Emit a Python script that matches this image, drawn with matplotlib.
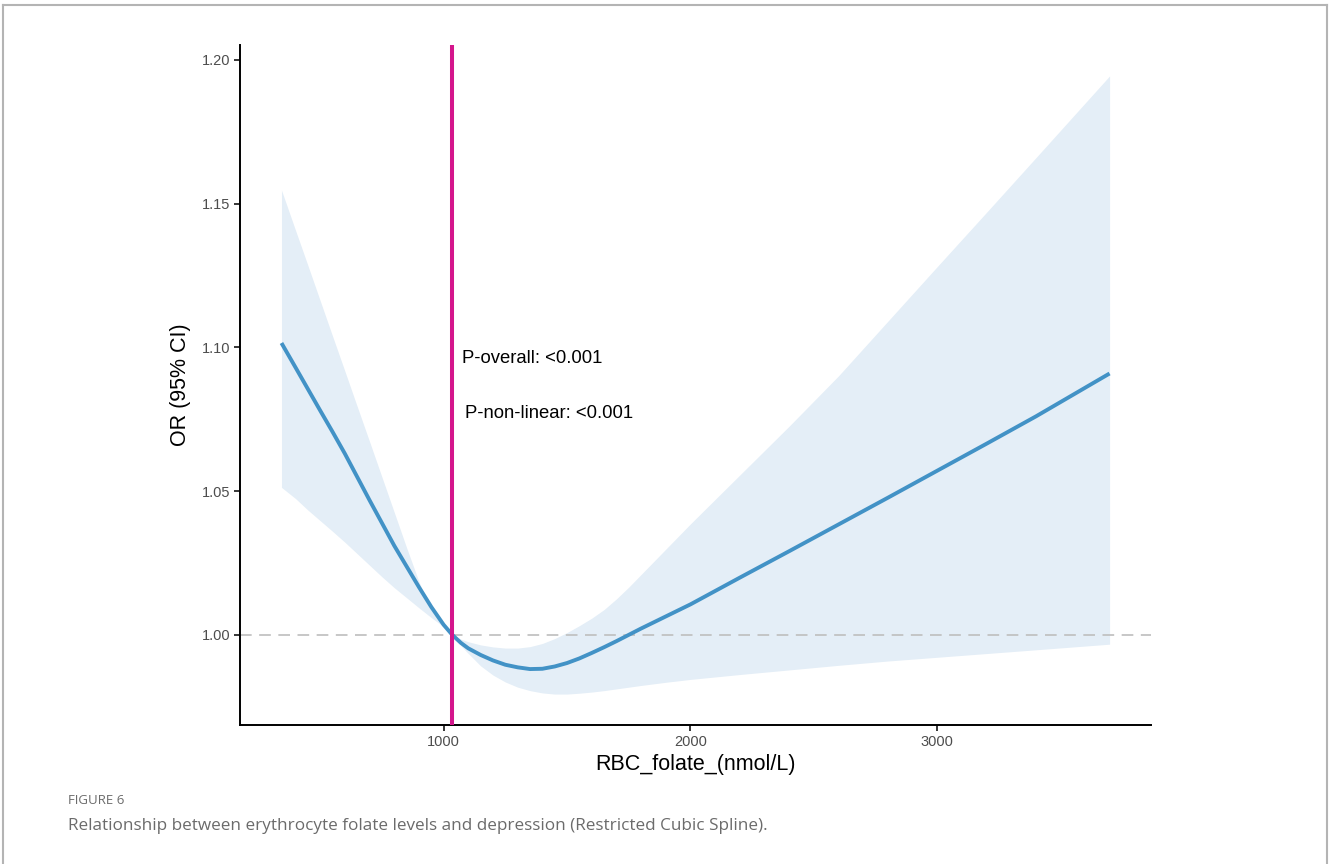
import numpy as np
import matplotlib.pyplot as plt
from matplotlib.lines import Line2D
from matplotlib.ticker import FormatStrFormatter

# values
rbc_folate = [343, 400, 450, 500, 550, 600, 650, 700, 750, 800, 850, 900, 950, 1000,
              1035, 1070, 1100, 1150, 1200, 1250, 1300, 1350, 1400, 1450, 1500, 1550,
              1600, 1650, 1700, 1750, 1800, 1900, 2000, 2200, 2400, 2600, 2800, 3000,
              3200, 3400, 3698]
or_fit = [1.1015, 1.0930, 1.0855, 1.0780, 1.0706, 1.0630, 1.0549, 1.0468, 1.0389,
          1.0310, 1.0238, 1.0166, 1.0097, 1.0035, 1.0000, 0.9972, 0.9953, 0.9930,
          0.9911, 0.9896, 0.9887, 0.9881, 0.9882, 0.9890, 0.9902, 0.9918, 0.9937,
          0.9957, 0.9978, 1.0000, 1.0022, 1.0064, 1.0106, 1.0199, 1.0291, 1.0384,
          1.0477, 1.0571, 1.0665, 1.0760, 1.0909]
or_upper = [1.1547, 1.1407, 1.1285, 1.1162, 1.1039, 1.0917, 1.0794, 1.0672, 1.0549,
            1.0426, 1.0303, 1.0185, 1.0085, 1.0030, 1.0000, 0.9985, 0.9976, 0.9965,
            0.9958, 0.9954, 0.9954, 0.9959, 0.9970, 0.9987, 1.0008, 1.0032, 1.0058,
            1.0088, 1.0125, 1.0166, 1.0210, 1.0298, 1.0386, 1.0556, 1.0726, 1.0901,
            1.1091, 1.1281, 1.1470, 1.1660, 1.1944]
or_lower = [1.0513, 1.0474, 1.0434, 1.0397, 1.0360, 1.0322, 1.0282, 1.0242, 1.0202,
            1.0164, 1.0129, 1.0094, 1.0060, 1.0028, 1.0000, 0.9962, 0.9935, 0.9892,
            0.9860, 0.9836, 0.9818, 0.9806, 0.9798, 0.9794, 0.9794, 0.9797, 0.9801,
            0.9806, 0.9812, 0.9818, 0.9824, 0.9835, 0.9845, 0.9862, 0.9878, 0.9894,
            0.9909, 0.9922, 0.9935, 0.9948, 0.99675]
ref_value = 1035
p_texts = ["P-overall: <0.001", "P-non-linear: <0.001"]
caption_head = "FIGURE 6"
caption = "Relationship between erythrocyte folate levels and depression (Restricted Cubic Spline)."

plt.rcParams['font.family'] = ['Liberation Sans', 'DejaVu Sans']

fig = plt.figure(figsize=(13.3, 8.64), dpi=100)
ax = fig.add_axes([0.1805, 0.1609, 0.6849, 0.787])

x = np.array(rbc_folate)
ax.fill_between(x, or_lower, or_upper, color='#E4EEF7', lw=0, zorder=1)
ax.axhline(1.0, color='#BEBEBE', lw=1.2, dashes=(7, 4.5), zorder=2)
ax.plot(x, or_fit, color='#4292C6', lw=2.8, solid_capstyle='butt',
        solid_joinstyle='round', zorder=3)
ax.axvline(ref_value, color='#D4168C', lw=2.9, zorder=4)

ax.text(1073, 1.0962, p_texts[0], fontsize=13.3, va='center', ha='left', color='black')
ax.text(1085, 1.0770, p_texts[1], fontsize=13.3, va='center', ha='left', color='black')

span = x.max() - x.min()
ax.set_xlim(x.min() - 0.05 * span, x.max() + 0.05 * span)
yspan = max(or_upper) - min(or_lower)
ax.set_ylim(min(or_lower) - 0.05 * yspan, max(or_upper) + 0.05 * yspan)

ax.set_xticks([1000, 2000, 3000])
ax.set_yticks([1.00, 1.05, 1.10, 1.15, 1.20])
ax.yaxis.set_major_formatter(FormatStrFormatter('%.2f'))
ax.tick_params(length=4, width=1.1, colors='black', labelcolor='#4D4D4D',
               labelsize=10.5, pad=3)

for s in ['top', 'right']:
    ax.spines[s].set_visible(False)
for s in ['left', 'bottom']:
    ax.spines[s].set_linewidth(1.4)

ax.set_xlabel("RBC_folate_(nmol/L)", fontsize=15.5, labelpad=4)
ax.set_ylabel("OR (95% CI)", fontsize=15.5, labelpad=8)

# caption
fig.text(68 / 1330, 1 - 801 / 864, caption_head, fontsize=9.5, color='#6b6b6b',
         family=['Open Sans', 'DejaVu Sans'], va='center', ha='left')
fig.text(68 / 1330, 1 - 826 / 864, caption, fontsize=12.3, color='#6b6b6b',
         family=['Open Sans', 'DejaVu Sans'], va='center', ha='left')

# outer frame
frame_col = '#B4B4B4'
top_y = 1 - 4.5 / 864
fig.add_artist(Line2D([3 / 1330, 1327 / 1330], [top_y, top_y], color=frame_col, lw=1.5))
fig.add_artist(Line2D([3 / 1330, 3 / 1330], [0, top_y], color=frame_col, lw=1.5))
fig.add_artist(Line2D([1327 / 1330, 1327 / 1330], [0, top_y], color=frame_col, lw=1.5))

fig.savefig("out.png", dpi=100, facecolor='white')
